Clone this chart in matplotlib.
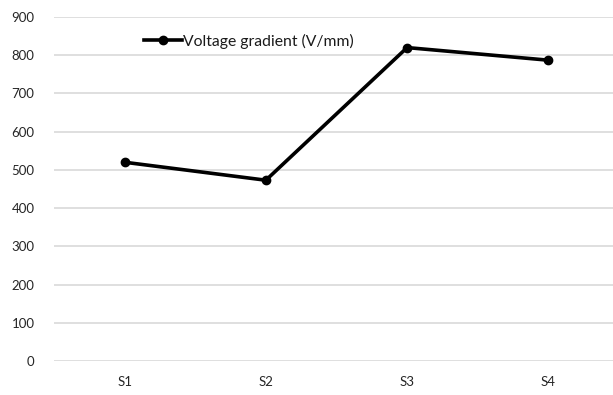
import matplotlib.pyplot as plt

samples = ["S1", "S2", "S3", "S4"]
gradient = [520, 473, 820, 787]
y_ticks = [0, 100, 200, 300, 400, 500, 600, 700, 800, 900]

plt.rcParams['font.family'] = ['Lato', 'DejaVu Sans']

fig = plt.figure(figsize=(6.13, 3.95), dpi=100)
ax = fig.add_axes([54 / 613, 34 / 395, 565 / 613, 344 / 395])

x = list(range(len(samples)))
ax.plot(x, gradient, color='black', lw=2.6, marker='o', markersize=6,
        label='Voltage gradient (V/mm)', zorder=3)

ax.set_xlim(-0.5, len(samples) - 0.5)
ax.set_ylim(0, 900)
ax.set_xticks(x)
ax.set_xticklabels(samples)
ax.set_yticks(y_ticks)
ax.yaxis.grid(True, color='#d9d9d9', lw=1.2)
ax.set_axisbelow(True)
for s in ax.spines.values():
    s.set_visible(False)
ax.tick_params(length=0, labelsize=9.5, labelcolor='#262626')
ax.tick_params(axis='x', pad=11)
ax.tick_params(axis='y', pad=14)

leg = ax.legend(loc='upper left', bbox_to_anchor=(0.148, 0.97), frameon=False,
                fontsize=11.3, handlelength=2.4, handletextpad=0.1, borderaxespad=0)
for t in leg.get_texts():
    t.set_color('#1a1a1a')

fig.savefig('out.png', dpi=100)
